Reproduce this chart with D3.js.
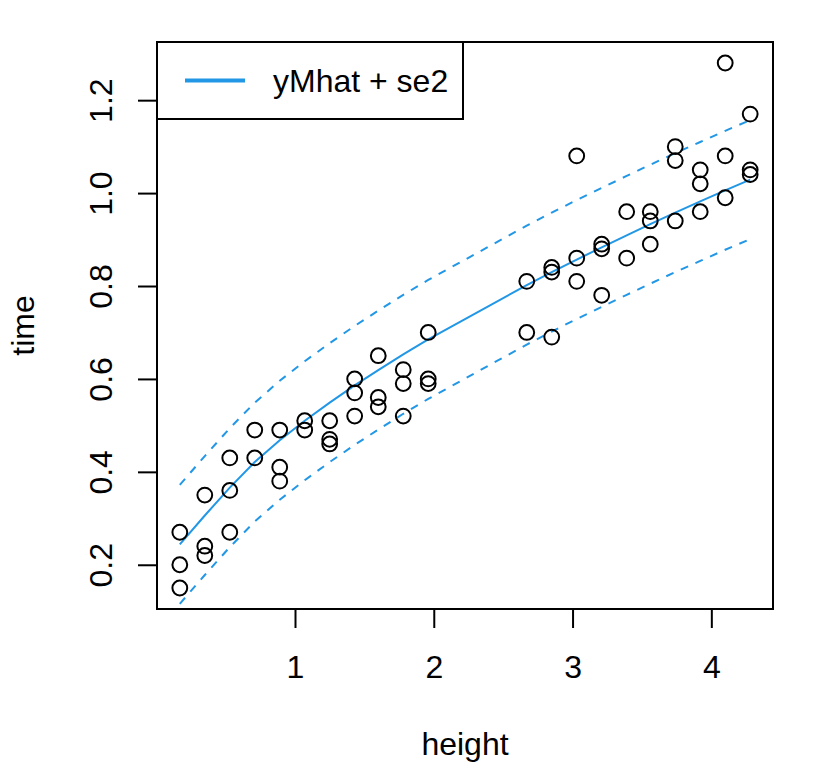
<!DOCTYPE html>
<html>
<head>
<meta charset="utf-8">
<script src="https://cdn.jsdelivr.net/npm/d3@7"></script>
<style>
  html, body { margin: 0; padding: 0; background: #ffffff; }
  svg { display: block; }
  text { font-family: "Liberation Sans", Arial, Helvetica, sans-serif; fill: #000; }
</style>
</head>
<body>
<svg id="chart" width="816" height="768"></svg>
<script>
// ---- data ----
const heightPts = [
  0.17, 0.17, 0.17,
  0.35, 0.35, 0.35,
  0.53, 0.53, 0.53,
  0.71, 0.71,
  0.89, 0.89, 0.89,
  1.07, 1.07,
  1.25, 1.25, 1.25,
  1.43, 1.43, 1.43,
  1.60, 1.60, 1.60,
  1.78, 1.78, 1.78,
  1.96, 1.96, 1.96,
  2.67, 2.67,
  2.85, 2.85, 2.85,
  3.03, 3.03, 3.03,
  3.21, 3.21, 3.21,
  3.39, 3.39,
  3.56, 3.56, 3.56,
  3.74, 3.74, 3.74,
  3.92, 3.92, 3.92,
  4.10, 4.10, 4.10,
  4.28, 4.28, 4.28
];
const timePts = [
  0.27, 0.20, 0.15,
  0.35, 0.24, 0.22,
  0.43, 0.36, 0.27,
  0.49, 0.43,
  0.49, 0.41, 0.38,
  0.51, 0.49,
  0.51, 0.47, 0.46,
  0.60, 0.57, 0.52,
  0.65, 0.56, 0.54,
  0.62, 0.59, 0.52,
  0.70, 0.60, 0.59,
  0.81, 0.70,
  0.84, 0.83, 0.69,
  1.08, 0.86, 0.81,
  0.89, 0.88, 0.78,
  0.96, 0.86,
  0.96, 0.94, 0.89,
  1.10, 1.07, 0.94,
  1.05, 1.02, 0.96,
  1.28, 1.08, 0.99,
  1.17, 1.05, 1.04
];
const curveHeights = [0.17, 0.35, 0.53, 0.71, 0.89, 1.07, 1.25, 1.43, 1.60, 1.78, 1.96,
                      2.67, 2.85, 3.03, 3.21, 3.39, 3.56, 3.74, 3.92, 4.10, 4.28];
const yMhat = [0.244, 0.306, 0.366, 0.421, 0.468, 0.510, 0.549, 0.586, 0.619, 0.653, 0.685,
               0.802, 0.830, 0.857, 0.883, 0.909, 0.933, 0.958, 0.982, 1.006, 1.029];
const upperBand = [0.372, 0.434, 0.494, 0.549, 0.596, 0.638, 0.677, 0.714, 0.747, 0.781, 0.813,
                   0.930, 0.958, 0.985, 1.011, 1.037, 1.061, 1.086, 1.110, 1.134, 1.157];
const lowerBand = [0.116, 0.178, 0.238, 0.293, 0.340, 0.382, 0.421, 0.458, 0.491, 0.525, 0.557,
                   0.674, 0.702, 0.729, 0.755, 0.781, 0.805, 0.830, 0.854, 0.878, 0.901];
const xTicks = [1, 2, 3, 4];
const xTickLabels = ["1", "2", "3", "4"];
const yTicks = [0.2, 0.4, 0.6, 0.8, 1.0, 1.2];
const yTickLabels = ["0.2", "0.4", "0.6", "0.8", "1.0", "1.2"];
const xLabel = "height";
const yLabel = "time";
const legendLabel = "yMhat + se2";

// ---- layout ----
const W = 816, H = 768;
const plot = { left: 157, right: 773, top: 42, bottom: 609 };
const blue = "#2297E6";
const fontPx = 32;

const svg = d3.select("#chart");
svg.append("rect").attr("width", W).attr("height", H).attr("fill", "#fff");

function padExtent(arr) {
  const [lo, hi] = d3.extent(arr);
  const d = (hi - lo) * 0.04;
  return [lo - d, hi + d];
}

const x = d3.scaleLinear().domain(padExtent(heightPts)).range([plot.left, plot.right]);
const y = d3.scaleLinear().domain(padExtent(timePts)).range([plot.bottom, plot.top]);

// ---- axes ----
const xAxis = d3.axisBottom(x).tickValues(xTicks)
  .tickFormat((d, i) => xTickLabels[i]).tickSize(19).tickSizeOuter(0);
const gx = svg.append("g").attr("transform", `translate(0,${plot.bottom})`).call(xAxis);
gx.select(".domain").remove();
gx.selectAll(".tick line").attr("stroke", "#000").attr("stroke-width", 2);
gx.selectAll(".tick text")
  .attr("y", 69).attr("dy", null)
  .attr("font-size", fontPx).attr("fill", "#000")
  .style("font-family", '"Liberation Sans", Arial, Helvetica, sans-serif');

const yAxis = d3.axisLeft(y).tickValues(yTicks)
  .tickFormat((d, i) => yTickLabels[i]).tickSize(19).tickSizeOuter(0);
const gy = svg.append("g").attr("transform", `translate(${plot.left},0)`).call(yAxis);
gy.select(".domain").remove();
gy.selectAll(".tick line").attr("stroke", "#000").attr("stroke-width", 2);
gy.selectAll(".tick text")
  .attr("x", null).attr("dy", null)
  .attr("transform", "translate(-45,0) rotate(-90)")
  .attr("text-anchor", "middle")
  .attr("font-size", fontPx).attr("fill", "#000")
  .style("font-family", '"Liberation Sans", Arial, Helvetica, sans-serif');

// axis titles
svg.append("text")
  .attr("x", (plot.left + plot.right) / 2).attr("y", 755)
  .attr("text-anchor", "middle").attr("font-size", fontPx)
  .text(xLabel);
svg.append("text")
  .attr("transform", `translate(34,${(plot.top + plot.bottom) / 2}) rotate(-90)`)
  .attr("text-anchor", "middle").attr("font-size", fontPx)
  .text(yLabel);

// ---- curves ----
const curveData = curveHeights.map((h, i) => ({ h, fit: yMhat[i], up: upperBand[i], lo: lowerBand[i] }));
const lineFit = d3.line().x(d => x(d.h)).y(d => y(d.fit));
const lineUp = d3.line().x(d => x(d.h)).y(d => y(d.up));
const lineLo = d3.line().x(d => x(d.h)).y(d => y(d.lo));

svg.append("path").datum(curveData).attr("d", lineFit)
  .attr("fill", "none").attr("stroke", blue).attr("stroke-width", 2);
svg.append("path").datum(curveData).attr("d", lineUp)
  .attr("fill", "none").attr("stroke", blue).attr("stroke-width", 2)
  .attr("stroke-dasharray", "8,8");
svg.append("path").datum(curveData).attr("d", lineLo)
  .attr("fill", "none").attr("stroke", blue).attr("stroke-width", 2)
  .attr("stroke-dasharray", "8,8");

// ---- points ----
svg.append("g").selectAll("circle")
  .data(heightPts.map((h, i) => ({ h, t: timePts[i] })))
  .join("circle")
  .attr("cx", d => x(d.h)).attr("cy", d => y(d.t))
  .attr("r", 7.4)
  .attr("fill", "none").attr("stroke", "#000").attr("stroke-width", 2);

// ---- plot box ----
svg.append("rect")
  .attr("x", plot.left).attr("y", plot.top)
  .attr("width", plot.right - plot.left).attr("height", plot.bottom - plot.top)
  .attr("fill", "none").attr("stroke", "#000").attr("stroke-width", 2);

// ---- legend ----
const lg = svg.append("g");
lg.append("rect")
  .attr("x", plot.left).attr("y", plot.top)
  .attr("width", 306).attr("height", 77)
  .attr("fill", "#fff").attr("stroke", "#000").attr("stroke-width", 2);
lg.append("line")
  .attr("x1", 185).attr("x2", 245).attr("y1", 80.5).attr("y2", 80.5)
  .attr("stroke", blue).attr("stroke-width", 4);
lg.append("text")
  .attr("x", 273).attr("y", 92)
  .attr("font-size", fontPx)
  .text(legendLabel);
</script>
</body>
</html>
